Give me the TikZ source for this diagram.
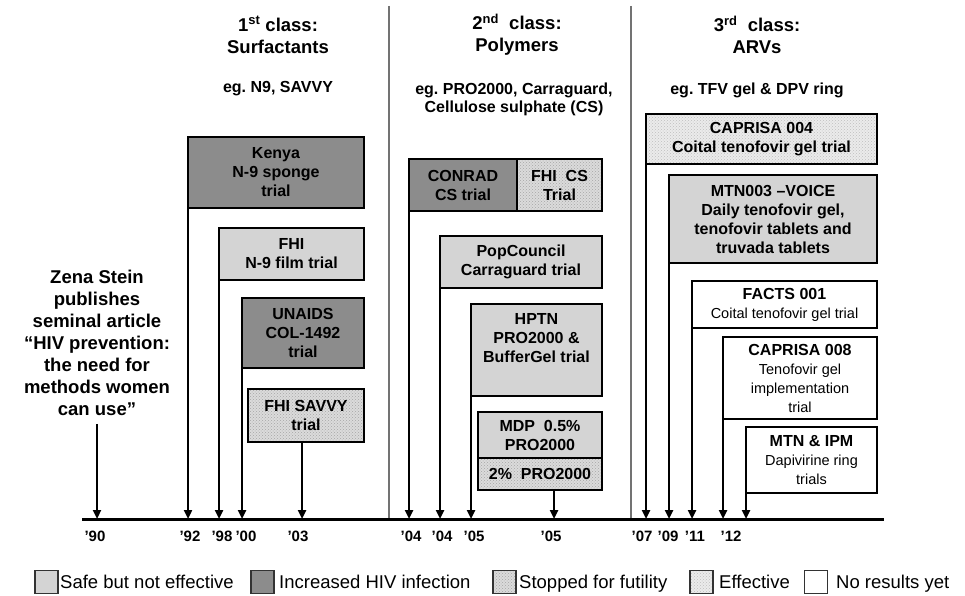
\documentclass[tikz,border=0pt]{standalone}
\usepackage{fontspec}
\setmainfont{Liberation Sans}
\usetikzlibrary{arrows.meta,patterns,calc}
\frenchspacing
\definecolor{darkfill}{gray}{0.55}
\definecolor{lightfill}{gray}{0.83}
\definecolor{stipfill}{gray}{0.86}
\definecolor{efffill}{gray}{0.92}
\definecolor{divgray}{gray}{0.45}
\newcommand{\regl}{\mdseries\fontsize{14.5}{18}\selectfont}
\tikzset{
  boxtext/.style={inner sep=0pt, align=center, font=\fontsize{16}{19}\selectfont\bfseries},
  trialbox/.style={boxtext, draw=black, line width=2.8pt, outer sep=0pt},
  darkbox/.style={trialbox, fill=darkfill},
  lightbox/.style={trialbox, fill=lightfill},
  futbox/.style={trialbox, preaction={fill=stipfill}, pattern=crosshatch dots, pattern color=gray!70},
  effbox/.style={trialbox, preaction={fill=efffill}, pattern=crosshatch dots, pattern color=gray!50},
  openbox/.style={trialbox, fill=white},
  stem/.style={line width=2.4pt, -{Triangle[length=9pt,width=8pt]}},
  yearlbl/.style={font=\fontsize{15}{17}\selectfont\bfseries, inner sep=0pt, anchor=base},
  classtitle/.style={font=\fontsize{18.5}{22}\selectfont\bfseries, align=center, inner sep=0pt},
  classsub/.style={font=\fontsize{16}{19}\selectfont\bfseries, align=center, inner sep=0pt},
  legbox/.style={draw=black!80, line width=1.3pt, minimum width=23pt, minimum height=23pt, inner sep=0pt},
  legtext/.style={font=\fontsize{18.5}{20}\selectfont, anchor=base west, inner sep=0pt},
  divider/.style={draw=divgray, line width=1.2pt},
}
\begin{document}
\begin{tikzpicture}[x=1pt,y=-1pt]
\useasboundingbox (0,0) rectangle (965,596);

% axis and dividers
\coordinate (axL) at (82,519);
\coordinate (axR) at (884,519);
\coordinate (d1t) at (389,6);
\coordinate (d2t) at (631,6);
\draw[divider] (d1t) -- (d1t |- axL);
\draw[divider] (d2t) -- (d2t |- axL);

% class headers
\node[classtitle] (c1) at (278,35) {1\textsuperscript{st} class:\\Surfactants};
\node[classsub] (c1e) at (278,89) {eg. N9, SAVVY};
\node[classtitle] (c2) at (517,35) {2\textsuperscript{nd}\ \ class:\\Polymers};
\node[classsub, font=\fontsize{16}{18}\selectfont\bfseries] (c2e) at (514,99) {eg. PRO2000, Carraguard,\\Cellulose sulphate (CS)};
\node[classtitle] (c3) at (757,35) {3\textsuperscript{rd}\ \ class:\\ARVs};
\node[classsub] (c3e) at (757,90) {eg. TFV gel \& DPV ring};

% Zena Stein
\node[classtitle, font=\fontsize{18.5}{22}\selectfont\bfseries] (zena) at (97,343) {Zena Stein\\publishes\\seminal article\\“HIV prevention:\\the need for\\methods women\\can use”};

% 1st class boxes
\node[darkbox, minimum width=176pt, minimum height=71pt] (kenya) at (276,172.5) {Kenya\\N-9 sponge\\trial};
\node[lightbox, minimum width=145pt, minimum height=52pt] (film) at (291.5,254) {FHI\\N-9 film trial};
\node[darkbox, minimum width=122pt, minimum height=70pt] (unaids) at (303,333) {UNAIDS\\COL-1492\\trial};
\node[futbox, minimum width=116pt, minimum height=53pt] (savvy) at (306,415.5) {FHI SAVVY\\trial};

% 2nd class boxes
\node[darkbox, minimum width=108pt, minimum height=52pt] (conrad) at (463,185) {CONRAD\\CS trial};
\node[futbox, minimum width=85pt, minimum height=52pt] (fhics) at (559.5,185) {FHI\ \ CS\\Trial};
\node[lightbox, minimum width=162pt, minimum height=52pt] (pop) at (521,262) {PopCouncil\\Carraguard trial};
\node[lightbox, minimum width=131pt, minimum height=92pt] (hptn) at (536.5,350) {};
\node[boxtext, anchor=north] (hptntxt) at ([yshift=-9pt]hptn.north) {HPTN\\PRO2000 \&\\BufferGel trial};
\node[lightbox, minimum width=124pt, minimum height=46pt] (mdp) at (540,435) {MDP\ \ 0.5\%\\PRO2000};
\node[futbox, minimum width=124pt, minimum height=32pt] (pro2) at (540,474) {2\%\ \ PRO2000};

% 3rd class boxes
\node[effbox, minimum width=231pt, minimum height=50pt] (cap4) at (761.5,139) {CAPRISA 004\\Coital tenofovir gel trial};
\node[lightbox, minimum width=208pt, minimum height=88pt] (voice) at (773,219) {MTN003 –VOICE\\Daily tenofovir gel,\\tenofovir tablets and\\truvada tablets};
\node[openbox, minimum width=185pt, minimum height=47pt] (facts) at (784.5,304.5) {FACTS 001\\\regl Coital tenofovir gel trial};
\node[openbox, minimum width=154pt, minimum height=82pt] (cap8) at (800,378) {CAPRISA 008\\\regl Tenofovir gel\\\regl implementation\\\regl trial};
\node[openbox, minimum width=131pt, minimum height=66pt] (mtn) at (811.5,460) {MTN \& IPM\\\regl Dapivirine ring\\\regl trials};

% axis
\draw[line width=3pt] (axL) -- (axR);

% stems
\draw[stem] (zena.south) ++(0,8) coordinate (zs) -- (zs |- axL);
\draw[stem] (kenya.south west) -- (kenya.south west |- axL);
\draw[stem] (film.south west) -- (film.south west |- axL);
\draw[stem] (unaids.south west) -- (unaids.south west |- axL);
\draw[stem] ($(savvy.south)+(-4,0)$) coordinate (sv) -- (sv |- axL);
\draw[stem] (conrad.south west) -- (conrad.south west |- axL);
\draw[stem] (pop.south west) -- (pop.south west |- axL);
\draw[stem] (hptn.south west) -- (hptn.south west |- axL);
\draw[stem] ($(pro2.south)+(14,0)$) coordinate (p2) -- (p2 |- axL);
\draw[stem] (cap4.south west) -- (cap4.south west |- axL);
\draw[stem] (voice.south west) -- (voice.south west |- axL);
\draw[stem] (facts.south west) -- (facts.south west |- axL);
\draw[stem] (cap8.south west) -- (cap8.south west |- axL);
\draw[stem] (mtn.south west) -- (mtn.south west |- axL);

% year labels
\node[yearlbl] (y90) at (95,541) {'90};
\node[yearlbl] (y92) at (190,541) {'92};
\node[yearlbl] (y98) at (222,541) {'98};
\node[yearlbl] (y00) at (246,541) {'00};
\node[yearlbl] (y03) at (298,541) {'03};
\node[yearlbl] (y04a) at (411,541) {'04};
\node[yearlbl] (y04b) at (442,541) {'04};
\node[yearlbl] (y05a) at (474,541) {'05};
\node[yearlbl] (y05b) at (551,541) {'05};
\node[yearlbl] (y07) at (642,541) {'07};
\node[yearlbl] (y09) at (668,541) {'09};
\node[yearlbl] (y11) at (695,541) {'11};
\node[yearlbl] (y12) at (731,541) {'12};

% legend
\node[legbox, fill=lightfill] (lg1) at (46.5,582) {};
\node[legtext] (lt1) at (60,588.5) {Safe but not effective};
\node[legbox, fill=darkfill] (lg2) at (262.5,582) {};
\node[legtext] (lt2) at (279,588.5) {Increased HIV infection};
\node[legbox, preaction={fill=stipfill}, pattern=crosshatch dots, pattern color=gray!70] (lg3) at (504.5,582) {};
\node[legtext] (lt3) at (519,588.5) {Stopped for futility};
\node[legbox, preaction={fill=efffill}, pattern=crosshatch dots, pattern color=gray!50] (lg4) at (701.5,582) {};
\node[legtext] (lt4) at (719,588.5) {Effective};
\node[legbox, fill=white] (lg5) at (816,582) {};
\node[legtext] (lt5) at (836,588.5) {No results yet};
\end{tikzpicture}
\end{document}
